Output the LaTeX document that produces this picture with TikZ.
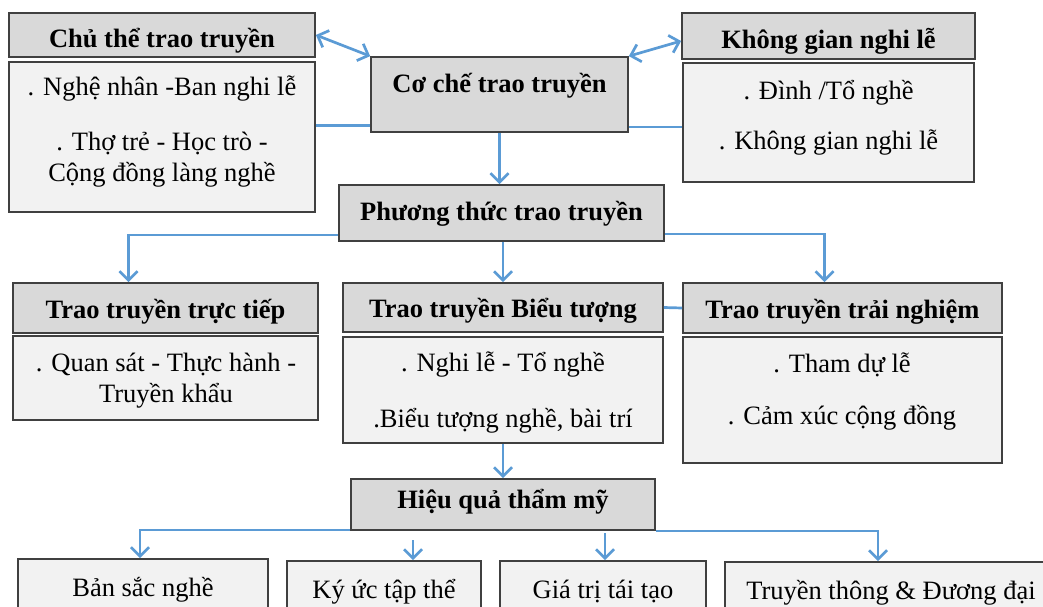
\documentclass[tikz,border=0pt]{standalone}
\usepackage{fontspec}
\setmainfont{Liberation Serif}
\usetikzlibrary{arrows.meta,positioning}
\definecolor{linkblue}{RGB}{91,155,213}
\definecolor{headgray}{RGB}{217,217,217}
\definecolor{bodygray}{RGB}{242,242,242}
\definecolor{edgegray}{RGB}{64,64,64}

\begin{document}
\begin{tikzpicture}
[
    x=1pt, y=-1pt,
    >={Straight Barb[length=9pt,width=18pt]},
    font=\fontsize{26.5}{31}\selectfont,
    headbox/.style={draw=edgegray, line width=1.7pt, fill=headgray, inner sep=0pt,
        text height=28pt, text depth=8pt, font=\fontsize{26.5}{31}\selectfont\bfseries},
    bodybox/.style={draw=edgegray, line width=1.7pt, fill=bodygray, inner sep=0pt,
        text height=28pt, text depth=8pt},
    bodytext/.style={align=center, inner sep=0pt},
    conn/.style={draw=linkblue, line width=2.7pt},
]
\useasboundingbox (0,0) rectangle (1043,607);
\clip (0,0) rectangle (1043,607);

\node[headbox, minimum width=306pt, minimum height=44pt, text height=32pt, text depth=6pt] (chuhead) at (162,35) {Chủ thể trao truyền};
\node[bodybox, minimum width=306pt, minimum height=150pt] (chubody) at (162,137) {};
\node[bodytext] (chutext) at (162,132)
    {. Nghệ nhân -Ban nghi lễ\\[24pt] . Thợ trẻ - Học trò -\\ Cộng đồng làng nghề};

\node[headbox, minimum width=257pt, minimum height=75pt] (coche) at (499.5,94.5) {};
\node[bodytext, font=\fontsize{26.5}{31}\selectfont\bfseries] (cochetext) at (499.5,86) {Cơ chế trao truyền};

\node[headbox, minimum width=293pt, minimum height=46pt, text height=32pt, text depth=6pt] (khonghead) at (828.5,36) {Không gian nghi lễ};
\node[bodybox, minimum width=291pt, minimum height=119pt] (khongbody) at (828.5,122.5) {};
\node[bodytext] (khongtext) at (828.5,118)
    {. Đình /Tổ nghề\\[19pt] . Không gian nghi lễ};

\node[headbox, minimum width=325pt, minimum height=56pt, text height=26pt, text depth=12pt] (phuong) at (501.5,213) {Phương thức trao truyền};

\node[headbox, minimum width=305pt, minimum height=50pt] (truchead) at (165.5,308) {Trao truyền trực tiếp};
\node[bodybox, minimum width=305pt, minimum height=84pt] (trucbody) at (165.5,378) {};
\node[bodytext] (tructext) at (166,381)
    {. Quan sát - Thực hành -\\ Truyền khẩu};

\node[headbox, minimum width=320pt, minimum height=49pt] (bieuhead) at (503,307.5) {Trao truyền Biểu tượng};
\node[bodybox, minimum width=320pt, minimum height=106pt] (bieubody) at (503,390) {};
\node[bodytext] (bieutext) at (503,393)
    {. Nghi lễ - Tổ nghề\\[25pt] .Biểu tượng nghề, bài trí};

\node[headbox, minimum width=319pt, minimum height=50pt] (traihead) at (842.5,308) {Trao truyền trải nghiệm};
\node[bodybox, minimum width=319pt, minimum height=126pt] (traibody) at (842.5,400) {};
\node[bodytext] (traitext) at (842,392)
    {. Tham dự lễ\\[21pt] . Cảm xúc cộng đồng};

\node[headbox, minimum width=304pt, minimum height=51pt, text height=23pt, text depth=15pt] (hieuqua) at (503,504.5) {Hiệu quả thẩm mỹ};

\node[bodybox, minimum width=250pt, minimum height=54pt] (bansac) at (143,586) {Bản sắc nghề};
\node[bodybox, minimum width=194pt, minimum height=54pt] (kyuc) at (384,588) {Ký ức tập thể};
\node[bodybox, minimum width=206pt, minimum height=54pt] (giatri) at (603,588) {Giá trị tái tạo};
\node[bodybox, minimum width=332pt, minimum height=54pt] (truyenthong) at (891,589) {Truyền thông \& Đương đại};

\coordinate (cl) at ([yshift=7pt]coche.south west);
\coordinate (cr) at ([yshift=6pt]coche.south east);
\coordinate (pl) at ([yshift=7pt]phuong.south west);
\coordinate (pr) at ([yshift=8pt]phuong.south east);
\coordinate (kyfree) at ([xshift=29pt,yshift=20pt]kyuc.north);
\coordinate (gtfree) at ([xshift=2pt,yshift=27pt]giatri.north);

\draw[conn,<->] (chuhead.east) -- (coche.north west);
\draw[conn,<->] (coche.north east) -- ([yshift=-5pt]khonghead.west);
\draw[conn] (cl) -- (cl -| chubody.east);
\draw[conn] (cr) -- (cr -| khongbody.west);
\draw[conn,->] (coche.south) -- (coche.south |- phuong.north);
\draw[conn,->] (pl) -| ([xshift=-37pt]truchead.north);
\draw[conn,->] (pr) -| ([xshift=-18pt]traihead.north);
\draw[conn,->] (bieuhead.north |- phuong.south) -- (bieuhead.north);
\draw[conn] (bieuhead.east) -- (traihead.west);
\draw[conn,->] (bieubody.south) -- (hieuqua.north);
\draw[conn,->] ([yshift=1pt]hieuqua.south west) -| ([xshift=-3pt]bansac.north);
\draw[conn,->] (hieuqua.south east) -| ([xshift=-13pt]truyenthong.north);
\draw[conn,->] (kyfree) -- (kyfree |- kyuc.north);
\draw[conn,->] (gtfree) -- (gtfree |- giatri.north);
\end{tikzpicture}
\end{document}
